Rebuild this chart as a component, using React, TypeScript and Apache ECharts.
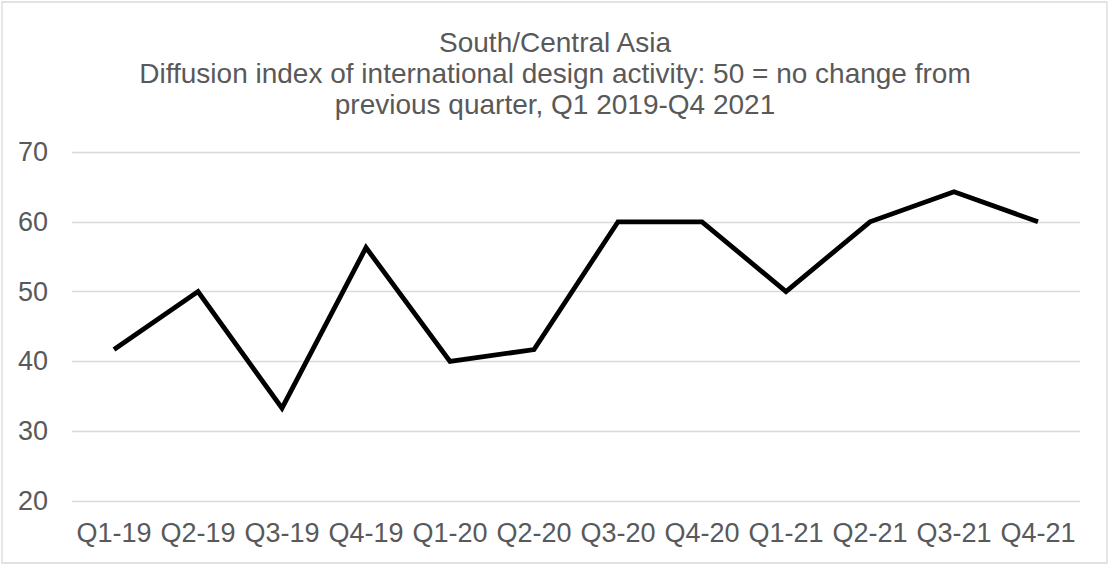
import React, { useEffect, useRef } from "react";
import * as echarts from "echarts";

const categories = ["Q1-19", "Q2-19", "Q3-19", "Q4-19", "Q1-20", "Q2-20", "Q3-20", "Q4-20", "Q1-21", "Q2-21", "Q3-21", "Q4-21"];
const values = [41.7, 50, 33.3, 56.3, 40, 41.7, 60, 60, 50, 60, 64.3, 60];
const titleLines = [
  "South/Central Asia",
  "Diffusion index of international design activity: 50 = no change from",
  "previous quarter, Q1 2019-Q4 2021",
];

export default function App() {
  const ref = useRef<HTMLDivElement>(null);
  useEffect(() => {
    document.body.style.margin = "0";
    const chart = echarts.init(ref.current!, null, { renderer: "svg" });
    const font = "'Liberation Sans', Arial, sans-serif";
    chart.setOption({
      animation: false,
      backgroundColor: "#ffffff",
      title: {
        text: titleLines.join("\n"),
        left: "center",
        top: 22,
        textStyle: { fontSize: 28, lineHeight: 31, fontWeight: "normal", color: "#595959", fontFamily: font },
      },
      graphic: [
        {
          type: "rect",
          shape: { x: 2, y: 2, width: 1105, height: 561 },
          style: { fill: "none", stroke: "#d9d9d9", lineWidth: 1.3 },
          silent: true,
        },
      ],
      grid: { left: 72, right: 30, top: 152, bottom: 64, containLabel: false },
      xAxis: {
        type: "category",
        data: categories,
        boundaryGap: true,
        axisLine: { show: false },
        axisTick: { show: false },
        axisLabel: { color: "#595959", fontSize: 27, lineHeight: 27, fontFamily: font, margin: 18, interval: 0 },
      },
      yAxis: {
        type: "value",
        min: 20,
        max: 70,
        interval: 10,
        axisLine: { show: false },
        axisTick: { show: false },
        splitLine: { lineStyle: { color: "#d9d9d9", width: 1.3 } },
        axisLabel: { color: "#595959", fontSize: 27, fontFamily: font, margin: 24 },
      },
      series: [
        {
          type: "line",
          data: values,
          showSymbol: false,
          symbol: "none",
          lineStyle: { color: "#000000", width: 4.8, join: "miter" },
        },
      ],
    });
    return () => chart.dispose();
  }, []);
  return <div ref={ref} style={{ width: 1110, height: 565 }} />;
}
